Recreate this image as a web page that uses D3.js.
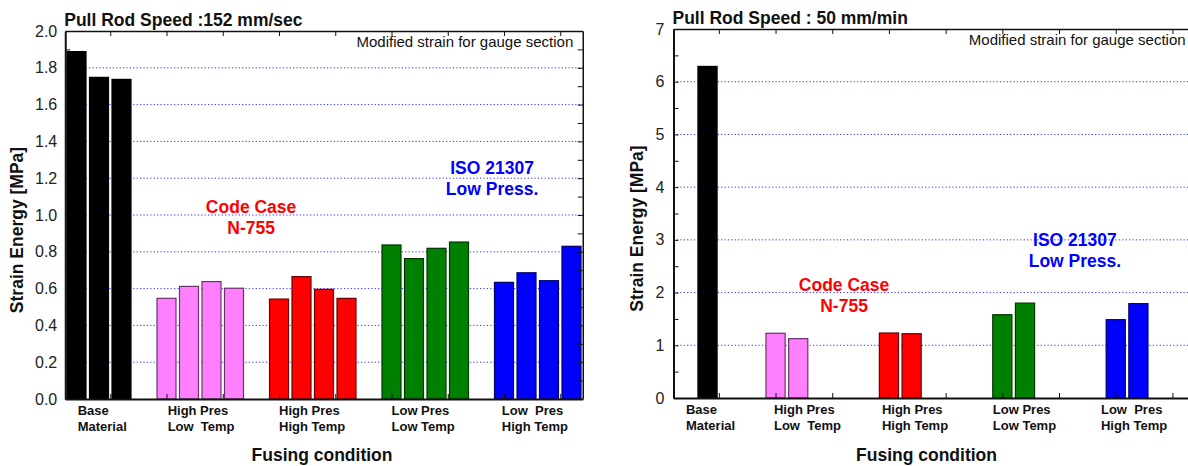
<!DOCTYPE html>
<html>
<head>
<meta charset="utf-8">
<script src="https://cdn.jsdelivr.net/npm/d3@7"></script>
<style>
  body { margin: 0; background: #fff; }
  svg { display: block; font-family: Arial, "Liberation Sans", Helvetica, sans-serif; }
  text { white-space: pre; }
</style>
</head>
<body>
<svg id="chart" width="1188" height="466"></svg>
<script>
// Fusing conditions (two-line labels) and their bar colours
var categories = [
  ["Base", "Material"],
  ["High Pres", "Low  Temp"],
  ["High Pres", "High Temp"],
  ["Low Pres", "Low Temp"],
  ["Low  Pres", "High Temp"]
];
var groupColors = ["#000000", "#ff80ff", "#ff0000", "#008000", "#0000ff"];

// Strain energy [MPa], one array per fusing condition
var fastValues = [
  [1.888, 1.748, 1.737],
  [0.547, 0.612, 0.638, 0.602],
  [0.543, 0.665, 0.596, 0.547],
  [0.837, 0.763, 0.819, 0.853],
  [0.634, 0.686, 0.643, 0.830]
];
var slowValues = [
  [6.29],
  [1.228, 1.126],
  [1.233, 1.220],
  [1.580, 1.800],
  [1.486, 1.790]
];

var fastTicks = [0.0, 0.2, 0.4, 0.6, 0.8, 1.0, 1.2, 1.4, 1.6, 1.8, 2.0];
var slowTicks = [0, 1, 2, 3, 4, 5, 6, 7];

var svg = d3.select("#chart");

function drawChart(c) {
  var x = d3.scaleLinear().domain(c.slots).range([c.left, c.right]);
  var y = d3.scaleLinear().domain([0, c.yMax]).range([c.bottom, c.top]);
  var pitch = x(1) - x(0);
  var pad = pitch * 0.078;

  var g = svg.append("g");

  // dotted grid
  g.selectAll(".grid")
    .data(c.yTicks.filter(function(d) { return d > 0 && d < c.yMax; }))
    .enter().append("line")
    .attr("x1", c.left).attr("x2", c.right)
    .attr("y1", function(d) { return y(d); })
    .attr("y2", function(d) { return y(d); })
    .attr("stroke", "#2a2aff")
    .attr("stroke-width", 1)
    .attr("stroke-dasharray", "1.2,2.2");

  // bars
  var bars = [];
  c.values.forEach(function(vals, gi) {
    var start = gi === 0 ? 0 : c.firstGroup + (gi - 1) * 5;
    vals.forEach(function(v, i) {
      bars.push({ slot: start + i, value: v, color: groupColors[gi] });
    });
  });
  g.selectAll(".bar")
    .data(bars)
    .enter().append("rect")
    .attr("x", function(d) { return x(d.slot) + pad; })
    .attr("width", pitch - 2 * pad)
    .attr("y", function(d) { return y(d.value); })
    .attr("height", function(d) { return y(0) - y(d.value); })
    .attr("fill", function(d) { return d.color; })
    .attr("stroke", function(d) { return d3.color(d.color).darker(2.5); })
    .attr("stroke-width", 1.2);

  // axes (ticks point inward)
  var minor = d3.range(0, c.yMax + 1e-9, c.minorStep);
  var xTicks = d3.range(c.xTickStart, c.slots[1] + 1e-9, 2.5);

  function styleAxis(sel, w) {
    sel.select(".domain").attr("stroke", "#111").attr("stroke-width", w);
    sel.selectAll(".tick line").attr("stroke", "#111").attr("stroke-width", 1);
  }

  g.append("g").attr("transform", "translate(0," + c.bottom + ")")
    .call(d3.axisBottom(x).tickValues(xTicks).tickSize(-5).tickSizeOuter(0).tickFormat(""))
    .call(styleAxis, 2);
  g.append("g").attr("transform", "translate(0," + c.top + ")")
    .call(d3.axisTop(x).tickValues(xTicks).tickSize(-5).tickSizeOuter(0).tickFormat(""))
    .call(styleAxis, 1.5);
  g.append("g").attr("transform", "translate(" + c.right + ",0)")
    .call(d3.axisRight(y).tickValues(minor).tickSize(-5).tickSizeOuter(0).tickFormat(""))
    .call(styleAxis, 1.5);
  var yAxis = g.append("g").attr("transform", "translate(" + c.left + ",0)")
    .call(d3.axisLeft(y).tickValues(minor).tickSize(-5).tickSizeOuter(0).tickFormat(""))
    .call(styleAxis, 2);
  var yLab = g.append("g").attr("transform", "translate(" + c.left + ",0)")
    .call(d3.axisLeft(y).tickValues(c.yTicks).tickSize(0).tickPadding(c.labelPad).tickFormat(c.fmt));
  yLab.select(".domain").remove();
  yLab.selectAll("text").attr("font-size", 16).attr("fill", "#222");

  // category labels
  categories.forEach(function(lines, gi) {
    var t = g.append("text")
      .attr("x", x(c.labelAt[gi]))
      .attr("y", c.bottom + 16)
      .attr("font-size", 13).attr("font-weight", "bold").attr("fill", "#111");
    lines.forEach(function(s, li) {
      t.append("tspan").attr("x", x(c.labelAt[gi])).attr("dy", li === 0 ? 0 : 16).text(s);
    });
  });

  // titles
  g.append("text").attr("x", c.left - 1).attr("y", c.top - 5)
    .attr("font-size", 17.5).attr("font-weight", "bold").attr("fill", "#111")
    .text(c.title);
  g.append("text").attr("x", c.right - 9.5).attr("y", c.top + 16)
    .attr("text-anchor", "end").attr("font-size", 15).attr("fill", "#111")
    .text("Modified strain for gauge section");
  g.append("text")
    .attr("transform", "translate(" + c.yTitleX + "," + ((c.top + c.bottom) / 2 + 15) + ") rotate(-90)")
    .attr("text-anchor", "middle").attr("font-size", 17.5).attr("font-weight", "bold").attr("fill", "#111")
    .text("Strain Energy [MPa]");
  g.append("text").attr("x", c.xTitleX).attr("y", 461)
    .attr("text-anchor", "middle").attr("font-size", 17.5).attr("font-weight", "bold").attr("fill", "#111")
    .text("Fusing condition");

  // annotations
  function note(pos, lines, color) {
    var t = g.append("text")
      .attr("text-anchor", "middle").attr("font-size", 17.5).attr("font-weight", "bold").attr("fill", color)
      .attr("y", y(pos[1]));
    lines.forEach(function(s, li) {
      t.append("tspan").attr("x", x(pos[0])).attr("dy", li === 0 ? 0 : 21).text(s);
    });
  }
  note(c.codeCaseAt, ["Code Case", "N-755"], "#ff0000");
  note(c.isoAt, ["ISO 21307", "Low Press."], "#0000ff");
}

drawChart({
  title: "Pull Rod Speed :152 mm/sec",
  values: fastValues, yTicks: fastTicks, yMax: 2, minorStep: 0.1, fmt: d3.format(".1f"),
  slots: [0, 23], left: 65.25, right: 582.75, top: 31, bottom: 399,
  firstGroup: 4, xTickStart: 2, labelPad: 8,
  labelAt: [0.55, 4.55, 9.5, 14.5, 19.4],
  codeCaseAt: [8.26, 1.011], isoAt: [18.97, 1.223],
  yTitleX: 23, xTitleX: 322
});

drawChart({
  title: "Pull Rod Speed : 50 mm/min",
  values: slowValues, yTicks: slowTicks, yMax: 7, minorStep: 0.5, fmt: d3.format("d"),
  slots: [-1, 22], left: 673.5, right: 1195.1, top: 29, bottom: 398,
  firstGroup: 3, xTickStart: 1, labelPad: 9,
  labelAt: [-0.45, 3.43, 8.19, 13.08, 17.85],
  codeCaseAt: [6.52, 2.03], isoAt: [16.7, 2.884],
  yTitleX: 643, xTitleX: 926.5
});
</script>
</body>
</html>
